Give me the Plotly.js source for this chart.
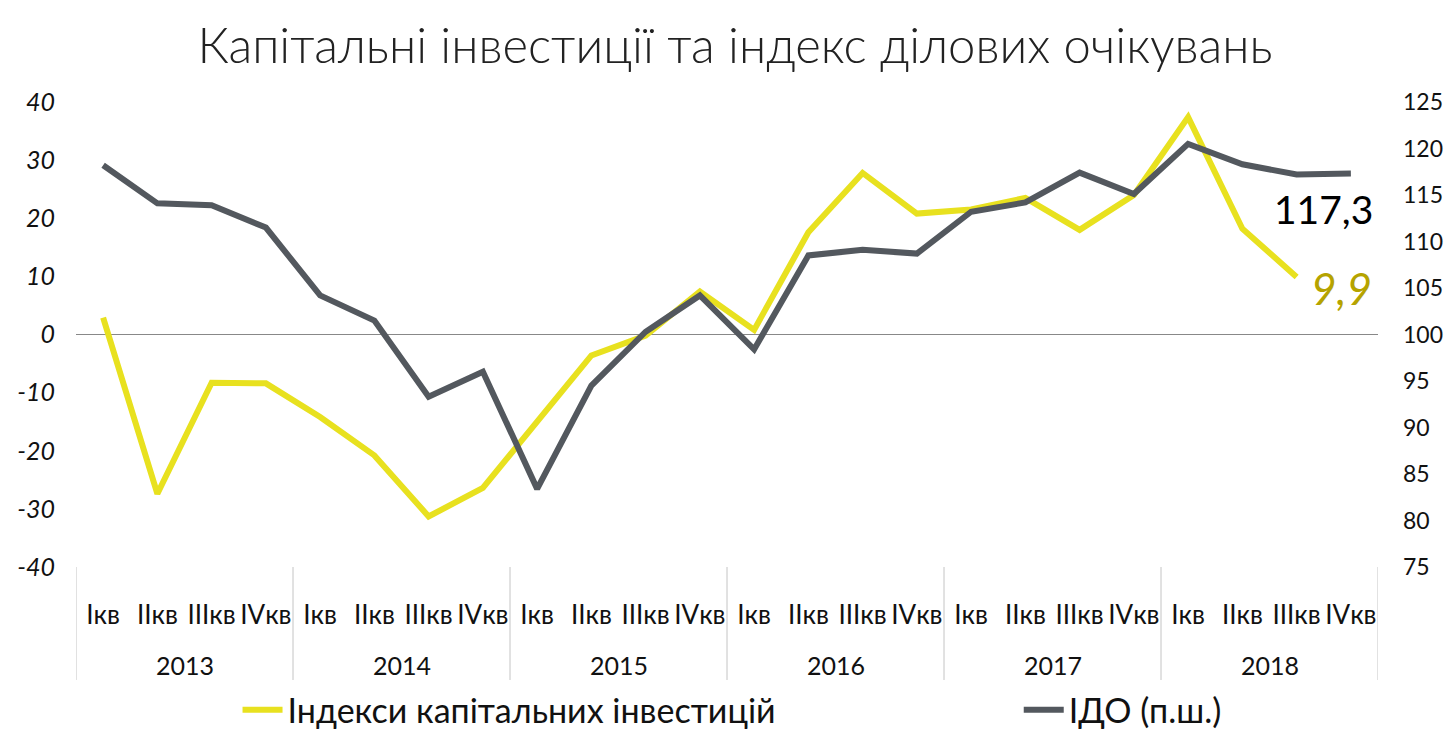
<!DOCTYPE html>
<html>
<head>
<meta charset="utf-8">
<script src="https://cdn.plot.ly/plotly-3.0.1.min.js"></script>
<style>html,body{margin:0;padding:0;background:#fff;}#chart{width:1444px;height:732px;}</style>
</head>
<body>
<div id="chart"></div>
<script>
const years = ['2013','2014','2015','2016','2017','2018'];
const quarters = ['Iкв','IIкв','IIIкв','IVкв'];
const invest = [2.9, -27.4, -8.3, -8.4, -14.2, -20.8, -31.3, -26.4, -15.0, -3.6, -0.2, 7.4, 0.8, 17.6, 27.8, 20.8, 21.5, 23.5, 18.0, 24.0, 37.4, 18.2, 9.9];
const ido = [118.2, 114.1, 113.9, 111.5, 104.2, 101.5, 93.3, 96.0, 83.4, 94.5, 100.3, 104.2, 98.4, 108.5, 109.1, 108.7, 113.2, 114.2, 117.4, 115.1, 120.5, 118.3, 117.2, 117.3];
const leftTicks = [-40, -30, -20, -10, 0, 10, 20, 30, 40];
const rightTicks = [75, 80, 85, 90, 95, 100, 105, 110, 115, 120, 125];
const seriesNames = ['Індекси капітальних інвестицій', 'ІДО (п.ш.)'];
const titleText = 'Капітальні інвестиції та індекс ділових очікувань';

const nQ = quarters.length;
const nCat = years.length * nQ;
const idx = Array.from({length: nCat}, (_, i) => i);
const qLabels = idx.map(i => quarters[i % nQ]);

const YELLOW = '#e8e11f';
const DARK = '#53585e';
const FONT = 'Lato, "Noto Sans", sans-serif';

const fmt = v => String(v).replace('.', ',');

const traces = [
  {
    x: idx.slice(0, invest.length), y: invest, name: seriesNames[0], type: 'scatter', mode: 'lines',
    line: {color: YELLOW, width: 6}, yaxis: 'y', legend: 'legend'
  },
  {
    x: idx.slice(0, ido.length), y: ido, name: seriesNames[1], type: 'scatter', mode: 'lines',
    line: {color: DARK, width: 6}, yaxis: 'y2', legend: 'legend2'
  }
];

const lastI = invest.length - 1, lastD = ido.length - 1;

const shapes = [];
for (let k = 0; k <= years.length; k++) {
  shapes.push({type: 'line', xref: 'x', yref: 'paper', x0: k * nQ - 0.5, x1: k * nQ - 0.5,
    y0: 0, y1: -0.243, line: {color: '#c4c4c4', width: 1}});
}

const annotations = years.map((y, k) => ({
  xref: 'x', yref: 'paper', x: k * nQ + (nQ - 1) / 2, y: -0.211, text: y,
  showarrow: false, xanchor: 'center', yanchor: 'middle',
  font: {family: FONT, size: 25, color: '#111'}
}));
annotations.push(
  {xref: 'x', yref: 'y2', x: lastD, y: ido[lastD], text: fmt(ido[lastD]),
   showarrow: false, xanchor: 'center', yanchor: 'middle', xshift: -27, yshift: -35,
   font: {family: FONT, size: 39, color: '#000'}},
  {xref: 'x', yref: 'y', x: lastI, y: invest[lastI], text: fmt(invest[lastI]),
   showarrow: false, xanchor: 'center', yanchor: 'middle', xshift: 45, yshift: -11,
   font: {family: FONT, size: 44, color: '#b5a300', style: 'italic'}}
);

const legendCommon = {orientation: 'h', xref: 'container', yref: 'container', xanchor: 'left',
  yanchor: 'middle', y: 0.03, itemwidth: 40, bgcolor: 'rgba(0,0,0,0)',
  font: {family: FONT, size: 34, color: '#111'}};

const layout = {
  width: 1444, height: 732,
  paper_bgcolor: '#fff', plot_bgcolor: '#fff',
  margin: {l: 76, r: 66, t: 102, b: 165, autoexpand: false},
  title: {text: titleText, x: 0.509, xanchor: 'center', y: 0.938, yanchor: 'middle',
    font: {family: FONT, size: 49, color: '#222', weight: 300}},
  showlegend: true,
  legend: Object.assign({}, legendCommon, {x: 0.1645}),
  legend2: Object.assign({}, legendCommon, {x: 0.7055}),
  xaxis: {
    range: [-0.5, nCat - 0.5], tickvals: idx, ticktext: qLabels,
    showgrid: false, zeroline: false, showline: false, ticks: '', tickangle: 0,
    ticklabelstandoff: 30,
    tickfont: {family: FONT, size: 26, color: '#111'}
  },
  yaxis: {
    range: [-40, 40], tickvals: leftTicks, ticktext: leftTicks.map(String),
    showgrid: false, zeroline: true, zerolinecolor: '#888', zerolinewidth: 1,
    showline: false, ticks: '', ticklabelstandoff: 20,
    tickfont: {family: FONT, size: 25, color: '#111', style: 'italic'}
  },
  yaxis2: {
    range: [75, 125], tickvals: rightTicks, overlaying: 'y', side: 'right',
    showgrid: false, zeroline: false, showline: false, ticks: '', ticklabelstandoff: 24,
    tickfont: {family: FONT, size: 23, color: '#111'}
  },
  shapes: shapes,
  annotations: annotations
};

Plotly.newPlot('chart', traces, layout, {displayModeBar: false, responsive: false});
</script>
</body>
</html>
